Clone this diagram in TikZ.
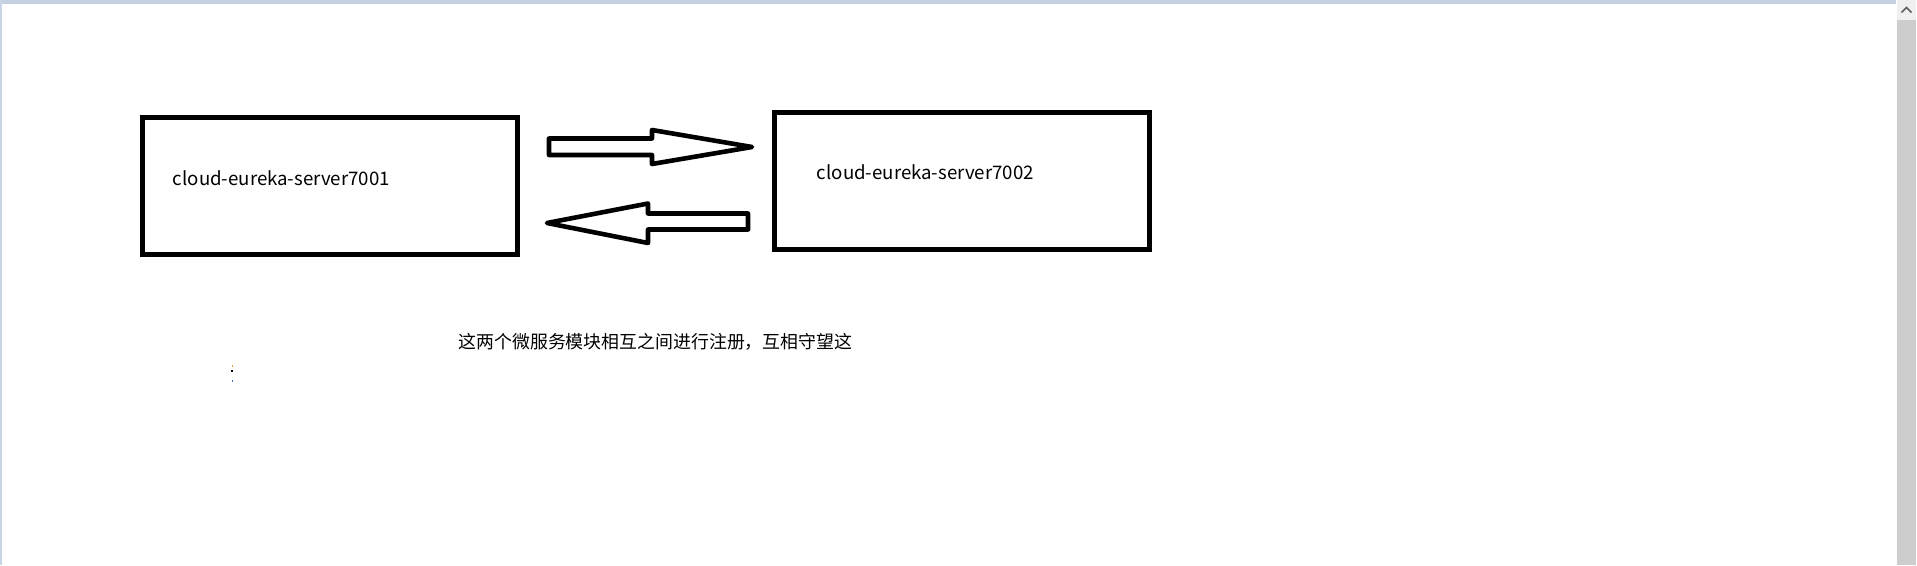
\documentclass[tikz,border=0pt]{standalone}
\usepackage{fontspec}
\setmainfont{Noto Sans CJK SC}
\definecolor{framebar}{HTML}{C5D0E3}
\definecolor{frameside}{HTML}{CAD5E8}
\definecolor{scrolltrack}{HTML}{CDCDCD}
\definecolor{scrollbtn}{HTML}{F0F0F0}
\definecolor{caretgray}{HTML}{606060}
\definecolor{dotorange}{HTML}{E8962E}
\definecolor{dotblue}{HTML}{3A6FC0}
\begin{document}
\begin{tikzpicture}[x=1pt,y=-1pt,
  serverbox/.style={draw=black,line width=5pt,minimum width=375pt,minimum height=136.5pt,inner sep=0pt},
  boxlabel/.style={anchor=base west,inner sep=0pt,font=\fontsize{18.65pt}{21pt}\selectfont},
  notelabel/.style={anchor=base west,inner sep=0pt,font=\fontsize{17.9pt}{20pt}\selectfont},
  blockarrow/.style={draw=black,fill=white,line width=4.6pt,line join=round}]
  \useasboundingbox (0,0) rectangle (1917,565);
  \fill[white] (0,0) rectangle (1917,565);
  % window frame
  \fill[framebar] (0,0) rectangle (1896,4);
  \fill[frameside] (0,0) rectangle (2,565);
  \fill[scrolltrack] (1897,20) rectangle (1916,565);
  \fill[scrollbtn] (1897,0) rectangle (1916,20);
  \draw[caretgray,line width=1.6pt] (1901.5,12.5) -- (1906.5,7.5) -- (1911.5,12.5);
  % boxes
  \node[serverbox] (s1) at (330,185.75) {};
  \node[serverbox,minimum width=374.2pt] (s2) at (961.9,180.75) {};
  \node[boxlabel] (t1) at (172.7,185) {cloud-eureka-server7001};
  \node[boxlabel] (t2) at (816.7,179) {cloud-eureka-server7002};
  % block arrows
  \draw[blockarrow] (549,138.5) -- (652,138.5) -- (652,130) -- (752,147)
    -- (652,164) -- (652,155) -- (549,155) -- cycle;
  \draw[blockarrow] (547,223) -- (648,203.5) -- (648,213.5) -- (748,213.5)
    -- (748,229.5) -- (648,229.5) -- (648,243) -- cycle;
  % note
  \node[notelabel] (note) at (458.3,348) {这两个微服务模块相互之间进行注册，互相守望这};
  % stray cursor dots
  \fill[dotorange] (231.6,364.8) rectangle (233,366.6);
  \fill[black] (231.2,370.4) rectangle (232.8,372.2);
  \fill[dotblue] (231.6,379.8) rectangle (233,381.8);
\end{tikzpicture}
\end{document}
